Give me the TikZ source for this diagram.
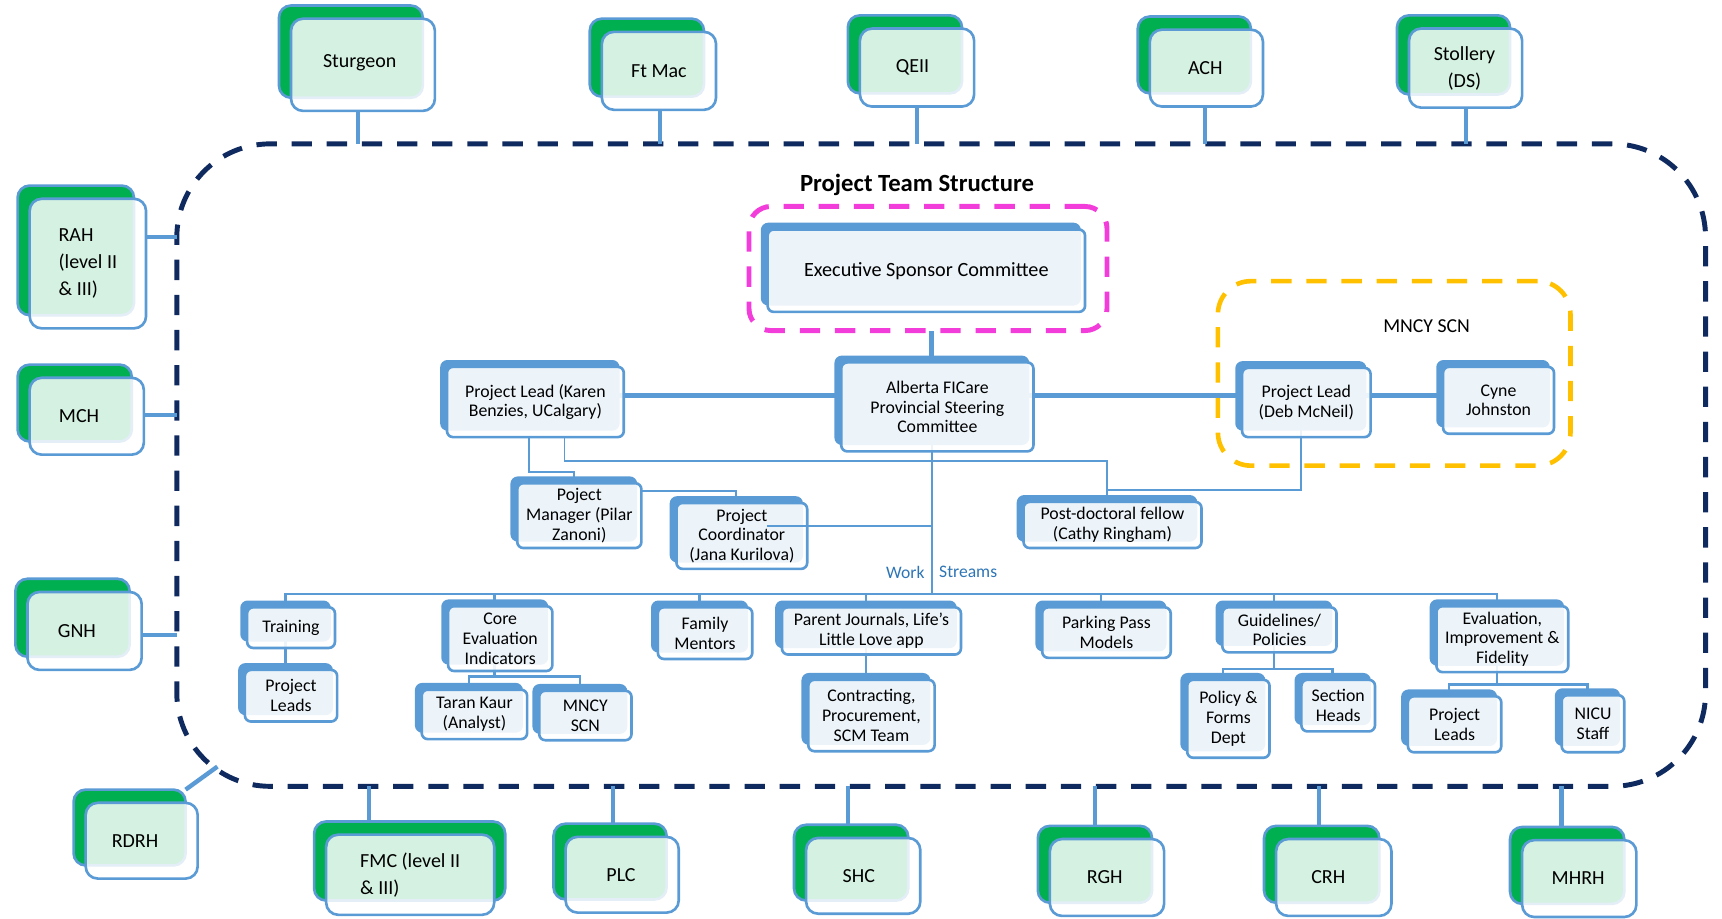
\documentclass[tikz,border=0pt]{standalone}
\usepackage{fontspec}
\setmainfont{Carlito}
\usetikzlibrary{calc}
\definecolor{bl}{HTML}{5B9BD5}
\definecolor{gr}{HTML}{00B050}
\definecolor{navy}{HTML}{0F2A5F}
\definecolor{mag}{HTML}{F23DDA}
\definecolor{yel}{HTML}{FFC000}
\definecolor{wsblue}{HTML}{2E75B6}
\pgfdeclarelayer{bg}\pgfdeclarelayer{conn}\pgfsetlayers{bg,conn,main}
\tikzset{
 iback/.style={draw=bl, fill=bl, line width=2.4pt, rounded corners=5.5pt, inner sep=0pt, outer sep=0pt},
 ifront/.style={draw=bl, fill=white, fill opacity=0.89, text opacity=1, line width=2.4pt, rounded corners=5.5pt, align=center, font=\fontsize{16.2}{18}\selectfont, inner sep=1pt, outer sep=0pt},
 oback/.style={draw=bl, fill=gr, line width=2.4pt, rounded corners=11pt, inner sep=0pt, outer sep=0pt},
 ofront/.style={draw=bl, fill=white, fill opacity=0.83, line width=2.4pt, rounded corners=11pt, inner sep=0pt, outer sep=0pt},
 otext/.style={align=center, font=\fontsize{18.2}{24.5}\selectfont, inner sep=1pt},
 dashbox/.style={line width=4.5pt, dash pattern=on 18.5pt off 13.5pt, inner sep=0pt, outer sep=0pt},
 thickc/.style={draw=bl, line width=4.5pt},
 thinc/.style={draw=bl, line width=1.8pt},
 busc/.style={draw=bl, line width=2.4pt},
 hosc/.style={draw=bl, line width=4pt},
 wslab/.style={text=wsblue, font=\fontsize{16}{18}\selectfont, inner sep=0pt},
}
\newcommand\ibox[6]{%
 \node[iback,minimum width={(#4-#2)*1pt},minimum height={(#5-#3-2)*1pt}] (#1-b) at ({(#2+#4)/2-5},{(#3+#5)/2-6}) {};
 \node[ifront,minimum width={(#4-#2)*1pt},minimum height={(#5-#3)*1pt}] (#1) at ({(#2+#4)/2},{(#3+#5)/2}) {#6};}
\newcommand\obox[7][]{%
 \node[oback,minimum width={(#5-#3)*1pt},minimum height={(#6-#4)*1pt}] (#2-b) at ({(#3+#5)/2-11},{(#4+#6)/2-12}) {};
 \node[ofront,minimum width={(#5-#3)*1pt},minimum height={(#6-#4)*1pt}] (#2) at ({(#3+#5)/2},{(#4+#6)/2}) {};
 \node[otext,#1] (#2-t) at ({(#3+#5)/2},{(#4+#6)/2}) {#7};}
\begin{document}
\begin{tikzpicture}[x=1pt,y=-1pt]
\useasboundingbox (0,0) rectangle (1568,836);
\begin{pgfonlayer}{bg}
\node[dashbox, draw=navy, rounded corners=85pt, minimum width=1392pt, minimum height=585pt] (region) at (857,423.5) {};
\node[dashbox, draw=mag, rounded corners=20pt, minimum width=326pt, minimum height=113pt] (esc) at (845,244.5) {};
\node[dashbox, draw=yel, line width=4.2pt, rounded corners=30pt, minimum width=321pt, minimum height=168pt] (mncy) at (1269.5,340) {};
\end{pgfonlayer}

% title and labels
\node[font=\fontsize{22.5}{26}\selectfont\bfseries, inner sep=0pt] (title) at (835,168) {Project Team Structure};
\node[font=\fontsize{18}{20}\selectfont, inner sep=0pt] (mncylabel) at (1299,297) {MNCY SCN};
\node[wslab, anchor=east] (ws1) at (842,521) {Work};
\node[wslab, anchor=west] (ws2) at (855,521) {Streams};

% outer hospital boxes
\obox[xshift=-3pt,yshift=2pt]{sturgeon}{265}{17}{396}{101}{Sturgeon}
\obox{ftmac}{548}{29}{652}{100}{Ft Mac}
\obox[xshift=-4pt]{qeii}{783}{26}{887}{97}{QEII}
\obox[xshift=-1pt]{ach}{1047}{27}{1150}{97}{ACH}
\obox[xshift=-1pt]{stollery}{1283}{26}{1386}{98}{Stollery\\(DS)}
\obox[align=left]{rah}{27}{181}{133}{299}{RAH\\(level II\\\& III)}
\obox[xshift=-7pt]{mch}{27}{344}{131}{414}{MCH}
\obox[xshift=-7pt]{gnh}{25}{539}{129}{610}{GNH}
\obox[xshift=-6pt]{rdrh}{78}{731}{180}{800}{RDRH}
\node[oback, minimum width=174pt, minimum height=72pt] (fmc-b) at (373,784) {};
\node[ofront, minimum width=153pt, minimum height=73pt] (fmc) at (373.5,796.5) {};
\node[otext, align=left] (fmc-t) at (373.5,796.5) {FMC (level II\\\& III)};
\obox[xshift=-1pt]{plc}{515}{762}{618}{831}{PLC}
\obox[xshift=-4pt]{shc}{734}{763}{838}{832}{SHC}
\obox[xshift=-2pt]{rgh}{956}{764}{1060}{834}{RGH}
\obox[xshift=-5pt]{crh}{1162}{764}{1267}{834}{CRH}
\obox[xshift=-1pt]{mhrh}{1386}{765}{1490}{835}{MHRH}

% inner boxes
\ibox{exec}{699}{209}{988}{284}{{\fontsize{18.4}{20}\selectfont Executive Sponsor Committee}}
\ibox{karen}{407}{334}{568}{398}{Project Lead (Karen\\Benzies, UCalgary)}
\ibox{alberta}{766}{330}{941}{411}{Alberta FICare\\Provincial Steering\\Committee}
\ibox{deb}{1131}{335}{1248}{398}{Project Lead\\(Deb McNeil)}
\ibox{cyne}{1314}{334}{1415}{395}{Cyne\\Johnston}
\ibox{manager}{471}{440}{584}{499}{Poject\\Manager (Pilar\\Zanoni)}
\ibox{coord}{616}{458}{735}{518}{Project\\Coordinator\\(Jana Kurilova)}
\ibox{postdoc}{932}{457}{1094}{499}{Post-doctoral fellow\\(Cathy Ringham)}
\ibox{training}{225}{553}{305}{590}{Training}
\ibox{leadsL}{223}{610}{307}{657}{Project\\Leads}
\ibox{core}{408}{552}{503}{611}{Core\\Evaluation\\Indicators}
\ibox{taran}{384}{628}{480}{673}{Taran Kaur\\(Analyst)}
\ibox{mncys}{491}{629}{575}{674}{MNCY\\SCN}
\ibox{family}{599}{553}{685}{600}{Family\\Mentors}
\ibox{parent}{712}{553}{875}{596}{Parent Journals, Life's\\Little Love app}
\ibox{contract}{736}{619}{851}{684}{Contracting,\\Procurement,\\SCM Team}
\ibox{parking}{949}{553}{1066}{599}{Parking Pass\\Models}
\ibox{guide}{1113}{553}{1217}{594}{Guidelines/\\Policies}
\ibox{policy}{1081}{619}{1156}{690}{Policy \&\\Forms\\Dept}
\ibox{section}{1185}{619}{1252}{666}{Section\\Heads}
\ibox{eval}{1308}{552}{1428}{612}{Evaluation,\\Improvement \&\\Fidelity}
\ibox{leadsR}{1282}{634}{1367}{685}{Project\\Leads}
\ibox{nicu}{1422}{633}{1479}{685}{NICU\\Staff}

\begin{pgfonlayer}{conn}
% thick connectors
\draw[thickc] (alberta-b.north) -- (alberta-b.north |- esc.south);
\draw[thickc] (karen-b.east) -- (karen-b.east -| alberta-b.west);
\draw[thickc] (deb-b.west -| alberta-b.east) -- (deb-b.west);
\draw[thickc] (deb-b.east) -- (deb-b.east -| cyne-b.west);
% thin connectors
\coordinate (bus) at (848.5,541);
\draw[thinc] (alberta-b.south) -- (alberta-b.south |- bus);
\coordinate (k1) at (482,430);
\draw[thinc] (k1 |- karen.south) -- (k1) -| (manager-b.north);
\coordinate (k2) at (514,420);
\coordinate (pdj) at (1008,446);
\draw[thinc] (k2 |- karen.south) -- (k2) -| (postdoc-b.north);
\draw[thinc] (deb-b.south) |- (pdj -| postdoc-b.north);
\coordinate (mcj) at (0,447);
\draw[thinc] (manager.east |- mcj) -| (coord-b.north);
% work stream bus
\draw[busc] (training-b.north) |- (bus) -| (eval-b.north);
\foreach \n in {core,family,parent,parking,guide}
  \draw[busc] (\n-b.north) -- (\n-b.north |- bus);
\draw[busc] (training-b.south) -- (leadsL-b.north);
\coordinate (cj2) at (0,616);
\draw[busc] (core-b.south) -- (core-b.south |- cj2);
\draw[busc] (taran-b.north) |- (cj2 -| core-b.south) -| (mncys-b.north);
\draw[busc] (parent-b.south) -- (contract-b.north);
\coordinate (gj) at (0,609);
\draw[busc] (guide-b.south) -- (guide-b.south |- gj);
\draw[busc] (policy-b.north) |- (gj -| guide-b.south) -| (section-b.north);
\coordinate (ej) at (0,623);
\draw[busc] (eval-b.south) -- (eval-b.south |- ej);
\draw[busc] (leadsR-b.north) |- (ej -| eval-b.south) -| (nicu-b.north);
% hospital connectors
\coordinate (h1) at (326,0);
\coordinate (h2) at (601,0);
\coordinate (h3) at (835,0);
\coordinate (h4) at (1097,0);
\coordinate (h5) at (1335,0);
\draw[hosc] (h1 |- sturgeon.south) -- (h1 |- region.north);
\draw[hosc] (h2 |- ftmac.south) -- (h2 |- region.north);
\draw[hosc] (h3 |- qeii.south) -- (h3 |- region.north);
\draw[hosc] (h4 |- ach.south) -- (h4 |- region.north);
\draw[hosc] (h5 |- stollery.south) -- (h5 |- region.north);
\coordinate (v1) at (0,216);
\coordinate (v2) at (0,378);
\coordinate (v3) at (0,578);
\draw[hosc] (rah.east |- v1) -- (region.west |- v1);
\draw[hosc] (mch.east |- v2) -- (region.west |- v2);
\draw[hosc] (gnh.east |- v3) -- (region.west |- v3);
\coordinate (rdc) at (198,698);
\draw[hosc] (rdrh-b.north east) -- (rdc);
\coordinate (b1) at (336,0);
\coordinate (b2) at (558,0);
\coordinate (b3) at (772,0);
\coordinate (b4) at (997,0);
\coordinate (b5) at (1201,0);
\coordinate (b6) at (1422,0);
\draw[hosc] (b1 |- region.south) -- (b1 |- fmc-b.north);
\draw[hosc] (b2 |- region.south) -- (b2 |- plc-b.north);
\draw[hosc] (b3 |- region.south) -- (b3 |- shc-b.north);
\draw[hosc] (b4 |- region.south) -- (b4 |- rgh-b.north);
\draw[hosc] (b5 |- region.south) -- (b5 |- crh-b.north);
\draw[hosc] (b6 |- region.south) -- (b6 |- mhrh-b.north);
\end{pgfonlayer}
% coordinator line drawn over its box
\coordinate (cj) at (698,479);
\draw[thinc] (cj) -- (cj -| bus);
\end{tikzpicture}
\end{document}
